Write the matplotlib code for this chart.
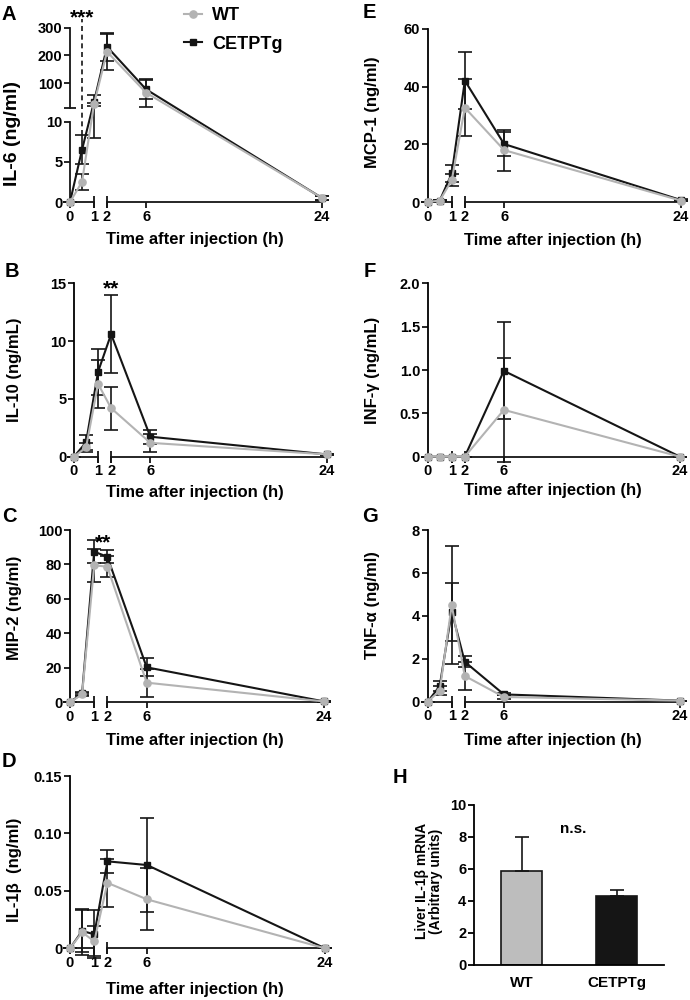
import numpy as np
import matplotlib
matplotlib.use("Agg")
from matplotlib import pyplot as plt

plt.rcParams["font.family"] = ["Liberation Sans", "DejaVu Sans"]
plt.rcParams["font.weight"] = "bold"
plt.rcParams["axes.labelweight"] = "bold"

GREY = "#b3b3b3"
BLACK = "#151515"
W, H = 690, 1000

# sampling times (h)
hours = [0, 0.5, 1, 2, 6, 24]

# A - IL-6 (ng/ml)
il6_wt = [0, 2.5, 25, 213, 66, 0.5]
il6_wt_sd = [0, 0.95, 5, 65, 50, 0.2]
il6_cet = [0, 6.5, 33, 231, 78, 0.5]
il6_cet_sd = [0, 1.8, 25, 50, 34, 0.2]

# B - IL-10 (ng/mL)
il10_wt = [0, 0.8, 6.3, 4.2, 1.2, 0.2]
il10_wt_sd = [0, 0.4, 2.1, 1.85, 0.8, 0.05]
il10_cet = [0, 1.24, 7.35, 10.6, 1.73, 0.2]
il10_cet_sd = [0, 0.66, 2.0, 3.4, 0.6, 0.05]

# C - MIP-2 (ng/ml)
mip2_wt = [0, 4.6, 79.5, 78.7, 11.4, 0.5]
mip2_wt_sd = [0, 1.0, 9.5, 6.2, 8.1, 0.3]
mip2_cet = [0, 5.2, 87.4, 84.5, 20.3, 0.5]
mip2_cet_sd = [0, 1.0, 6.8, 3.9, 5.2, 0.3]

# D - IL-1b (ng/ml)
il1b_wt = [0, 0.014, 0.006, 0.057, 0.0426, 0]
il1b_wt_sd = [0, 0.02, 0.013, 0.021, 0.027, 0]
il1b_cet = [0, 0.0151, 0.0122, 0.0757, 0.0725, 0]
il1b_cet_sd = [0, 0.018, 0.021, 0.010, 0.041, 0]

# E - MCP-1 (ng/ml)
mcp1_wt = [0, 0.5, 7.6, 32.7, 18, 0.5]
mcp1_wt_sd = [0, 0.3, 2.1, 9.8, 7.1, 0.2]
mcp1_cet = [0, 0.5, 9.9, 42.1, 20.1, 0.7]
mcp1_cet_sd = [0, 0.3, 2.9, 9.9, 4.3, 0.2]

# F - INF-g (ng/mL)
infg_wt = [0, 0, 0, 0, 0.54, 0]
infg_wt_sd = [0, 0, 0, 0, 0.6, 0]
infg_cet = [0, 0, 0, 0, 0.99, 0]
infg_cet_sd = [0, 0, 0, 0, 0.56, 0]

# G - TNF-a (ng/ml)
tnfa_wt = [0, 0.51, 4.5, 1.2, 0.22, 0.05]
tnfa_wt_sd = [0, 0.2, 2.75, 0.66, 0.1, 0]
tnfa_cet = [0, 0.73, 4.2, 1.86, 0.34, 0.05]
tnfa_cet_sd = [0, 0.25, 1.35, 0.25, 0.05, 0]

# H - liver IL-1b mRNA
groups = ["WT", "CETPTg"]
mrna_mean = [5.85, 4.3]
mrna_sd = [2.15, 0.4]

# broken time axis: 0-1 h stretched, gap, then 2-24 h
t_nodes = [-100, 0, 1, 2, 24, 200]
x_nodes = [-2400, 0, 24, 37, 252, 252 + 176 * 215 / 22]


def x_fwd(t):
    return np.interp(t, t_nodes, x_nodes)


def x_inv(x):
    return np.interp(x, x_nodes, t_nodes)


# broken y axis of IL-6: 0-10 linear, gap, 12-300 compressed
v_nodes = [-100, 0, 10, 12, 300, 1000]
p_nodes = [-800, 0, 80, 94, 174, 174 + 700 * 80 / 288]


def y_fwd(v):
    return np.interp(v, v_nodes, p_nodes)


def y_inv(p):
    return np.interp(p, p_nodes, v_nodes)


fig = plt.figure(figsize=(W / 100, H / 100), dpi=100)


def box(x0, x1, ytop, ybot):
    return [x0 / W, 1 - ybot / H, (x1 - x0) / W, (ybot - ytop) / H]


def ftext(x, y, s, **kw):
    fig.text(x / W, 1 - y / H, s, **kw)


def time_panel(rect, wt, wt_sd, cet, cet_sd, ymax, yticks, yticklabels,
               ylabel, ylab_xy, xlab_xy, ylab_size=12, broken_y=False):
    ax = fig.add_axes(rect)
    ax.set_xscale("function", functions=(x_fwd, x_inv))
    if broken_y:
        ax.set_yscale("function", functions=(y_fwd, y_inv))

    lines = []
    for mean, sd, col, mk, ms, z in [(cet, cet_sd, BLACK, "s", 4.6, 4),
                                     (wt, wt_sd, GREY, "o", 5.2, 5)]:
        eb = ax.errorbar(hours, mean, yerr=sd, fmt="none", ecolor=BLACK,
                         elinewidth=1.2, capsize=5, capthick=1.2, zorder=3)
        for art in eb.lines[1] + eb.lines[2]:
            art.set_clip_on(False)
        ln, = ax.plot(hours, mean, color=col, marker=mk, ms=ms, lw=1.5,
                      clip_on=False, zorder=z)
        lines.append(ln)

    ax.set_xlim(0, 24)
    ax.set_ylim(0, ymax)

    for s in ["top", "right", "bottom"]:
        ax.spines[s].set_visible(False)
    ax.spines["left"].set_linewidth(1.3)

    # two-piece x axis
    xtr = ax.get_xaxis_transform()
    ax.plot([0, 1], [0, 0], transform=xtr, color=BLACK, lw=1.3, clip_on=False)
    ax.plot([2, 24], [0, 0], transform=xtr, color=BLACK, lw=1.3, clip_on=False)
    ax.plot([1, 2], [0, 0], transform=xtr, ls="none", marker="|", ms=8,
            mew=1.3, color=BLACK, clip_on=False)

    if broken_y:
        ax.spines["left"].set_visible(False)
        ytr = ax.get_yaxis_transform()
        ax.plot([0, 0], [0, 10], transform=ytr, color=BLACK, lw=1.3, clip_on=False)
        ax.plot([0, 0], [12, ymax], transform=ytr, color=BLACK, lw=1.3, clip_on=False)
        ax.plot([0], [12], transform=ytr, ls="none", marker="_", ms=8,
                mew=1.3, color=BLACK, clip_on=False)

    ax.set_xticks([0, 1, 2, 6, 24])
    ax.set_xticklabels(["0", "1", "2", "6", "24"])
    ax.xaxis.set_minor_locator(plt.NullLocator())
    ax.yaxis.set_minor_locator(plt.NullLocator())
    ax.set_yticks(yticks)
    ax.set_yticklabels(yticklabels)
    ax.tick_params(direction="out", length=4, width=1.3, pad=1.5,
                   labelsize=10.5, color=BLACK)

    ax.set_xlabel("Time after injection (h)", fontsize=12)
    ax.xaxis.set_label_coords(xlab_xy[0] / W, 1 - xlab_xy[1] / H,
                              transform=fig.transFigure)
    ax.set_ylabel(ylabel, fontsize=ylab_size)
    ax.yaxis.set_label_coords(ylab_xy[0] / W, 1 - ylab_xy[1] / H,
                              transform=fig.transFigure)
    return ax, lines


# A
axA, (cet_line, wt_line) = time_panel(
    box(70, 322, 27.5, 202), il6_wt, il6_wt_sd, il6_cet, il6_cet_sd,
    300, [0, 5, 10, 100, 200, 300], ["0", "5", "10", "100", "200", "300"],
    "IL-6 (ng/ml)", (21, 133), (195, 232), ylab_size=14, broken_y=True)
axA.plot([0.5, 0.5], [il6_cet[1] + il6_cet_sd[1], 330], color=BLACK, lw=1.2,
         ls=(0, (3, 2.2)), clip_on=False, zorder=2)
ftext(82, 23, "***", ha="center", va="baseline", fontsize=15)

# B
time_panel(box(74, 326.7, 283.3, 456.7), il10_wt, il10_wt_sd, il10_cet, il10_cet_sd,
           15, [0, 5, 10, 15], ["0", "5", "10", "15"],
           "IL-10 (ng/mL)", (22, 370), (195, 485))
ftext(111, 294, "**", ha="center", va="baseline", fontsize=15)

# C
time_panel(box(70, 324, 530, 702.3), mip2_wt, mip2_wt_sd, mip2_cet, mip2_cet_sd,
           100, [0, 20, 40, 60, 80, 100], ["0", "20", "40", "60", "80", "100"],
           "MIP-2 (ng/ml)", (22, 608), (195, 733))
ftext(103, 548, "**", ha="center", va="baseline", fontsize=15)

# D
time_panel(box(70, 325, 776, 948.3), il1b_wt, il1b_wt_sd, il1b_cet, il1b_cet_sd,
           0.15, [0, 0.05, 0.10, 0.15], ["0", "0.05", "0.10", "0.15"],
           "IL-1\u03b2  (ng/ml)", (22, 870), (195, 982))

# E
time_panel(box(427.7, 680.7, 29, 202), mcp1_wt, mcp1_wt_sd, mcp1_cet, mcp1_cet_sd,
           60, [0, 20, 40, 60], ["0", "20", "40", "60"],
           "MCP-1 (ng/ml)", (380, 112), (553, 233))

# F
time_panel(box(427.7, 680, 283.3, 456.7), infg_wt, infg_wt_sd, infg_cet, infg_cet_sd,
           2.0, [0, 0.5, 1.0, 1.5, 2.0], ["0", "0.5", "1.0", "1.5", "2.0"],
           "INF-\u03b3 (ng/mL)", (380, 370), (553, 483))

# G
time_panel(box(427.7, 680, 530, 701.7), tnfa_wt, tnfa_wt_sd, tnfa_cet, tnfa_cet_sd,
           8, [0, 2, 4, 6, 8], ["0", "2", "4", "6", "8"],
           "TNF-\u03b1 (ng/ml)", (380, 605), (553, 733))

# H - bar chart
axH = fig.add_axes(box(474, 664, 805, 965))
axH.bar([0, 1], mrna_mean, width=0.43, color=["#bdbdbd", BLACK], edgecolor=BLACK,
        lw=1.2, yerr=[[0, 0], mrna_sd],
        error_kw=dict(ecolor=BLACK, elinewidth=1.2, capsize=5, capthick=1.2))
axH.set_xlim(-0.5, 1.5)
axH.set_ylim(0, 10)
axH.set_yticks([0, 2, 4, 6, 8, 10])
axH.set_xticks([0, 1])
axH.set_xticklabels(groups, fontsize=11)
for s in ["top", "right"]:
    axH.spines[s].set_visible(False)
for s in ["left", "bottom"]:
    axH.spines[s].set_linewidth(1.3)
axH.tick_params(axis="y", direction="out", length=4, width=1.3, pad=1.5, labelsize=10.5)
axH.tick_params(axis="x", length=0, pad=8)
axH.set_ylabel("Liver IL-1\u03b2 mRNA\n(Arbitrary units)", fontsize=10, linespacing=1.0)
axH.yaxis.set_label_coords(443 / W, 1 - 881 / H, transform=fig.transFigure)
ftext(573, 833, "n.s.", ha="center", va="baseline", fontsize=11)

# panel letters
for letter, x, y in [("A", 9, 20), ("B", 12, 277), ("C", 9, 522), ("D", 9, 767),
                     ("E", 369, 18), ("F", 370, 277), ("G", 370, 522), ("H", 400, 783)]:
    ftext(x, y, letter, ha="center", va="baseline", fontsize=14.5)

# legend
fig.legend([wt_line, cet_line], ["WT", "CETPTg"], loc="upper left",
           bbox_to_anchor=(184 / W, 1 - 7 / H), frameon=False, fontsize=13,
           handlelength=1.0, handletextpad=0.55, labelspacing=0.65,
           borderpad=0, borderaxespad=0)

fig.savefig("out.png", dpi=100)
